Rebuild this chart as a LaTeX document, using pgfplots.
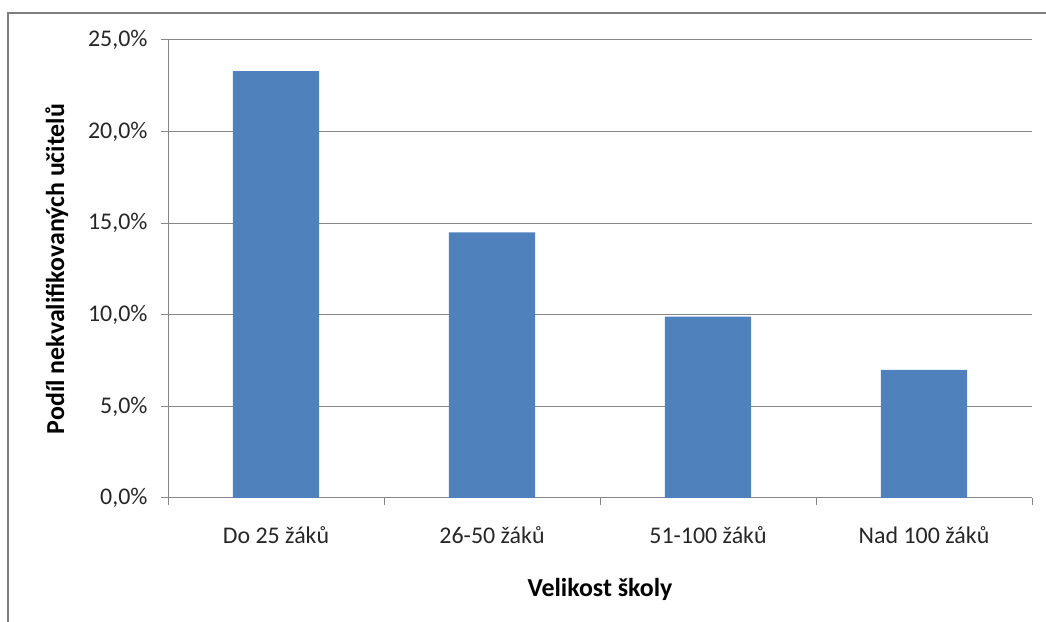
\documentclass[border=0pt]{standalone}
\usepackage{pgfplots}
\pgfplotsset{compat=1.18}
\usepackage{fontspec}
\setmainfont{Carlito}
\definecolor{barblue}{HTML}{4F81BD}
\definecolor{gridgray}{HTML}{868686}
\definecolor{framegray}{HTML}{7F7F7F}
\begin{document}
\begin{tikzpicture}[x=1bp,y=1bp]
\useasboundingbox (0,0) rectangle (1046,622);
\draw[framegray, line width=2bp] (8,0) -- (8,609) -- (1046,609);
\begin{axis}[
  at={(168bp,124bp)}, anchor=south west,
  scale only axis, width=864bp, height=458bp,
  ymin=0, ymax=25, xmin=0.5, xmax=4.5,
  axis lines*=left, axis line style={gridgray, line width=1bp},
  ymajorgrids, grid style={gridgray, line width=1bp},
  ytick={0,5,10,15,20,25},
  xtick={1,2,3,4},
  xticklabels={Do 25 žáků, 26-50 žáků, 51-100 žáků, Nad 100 žáků},
  minor xtick={0.5,1.5,2.5,3.5,4.5},
  tick align=outside,
  major x tick style={draw=none},
  minor tick length=7bp, major tick length=7bp,
  tick style={gridgray, line width=1bp},
  /pgf/number format/assume math mode=true,
  yticklabel={\pgfmathprintnumber[fixed,fixed zerofill,precision=1,use comma]{\tick}\%},
  ticklabel style={font=\fontsize{24}{28}\selectfont, color=black!85},
  yticklabel style={xshift=-10bp},
  xticklabel style={yshift=-18bp},
  xlabel={\bfseries Velikost školy},
  ylabel={\bfseries Podíl nekvalifikovaných učitelů},
  label style={font=\fontsize{26}{30}\selectfont},
  xlabel style={yshift=-28bp},
  ylabel style={yshift=13bp},
  ybar, bar width=0.4, bar shift=0pt,
]
\addplot[fill=barblue, draw=none] coordinates {(1,23.3) (2,14.5) (3,9.9) (4,7.0)};
\end{axis}
\end{tikzpicture}
\end{document}
